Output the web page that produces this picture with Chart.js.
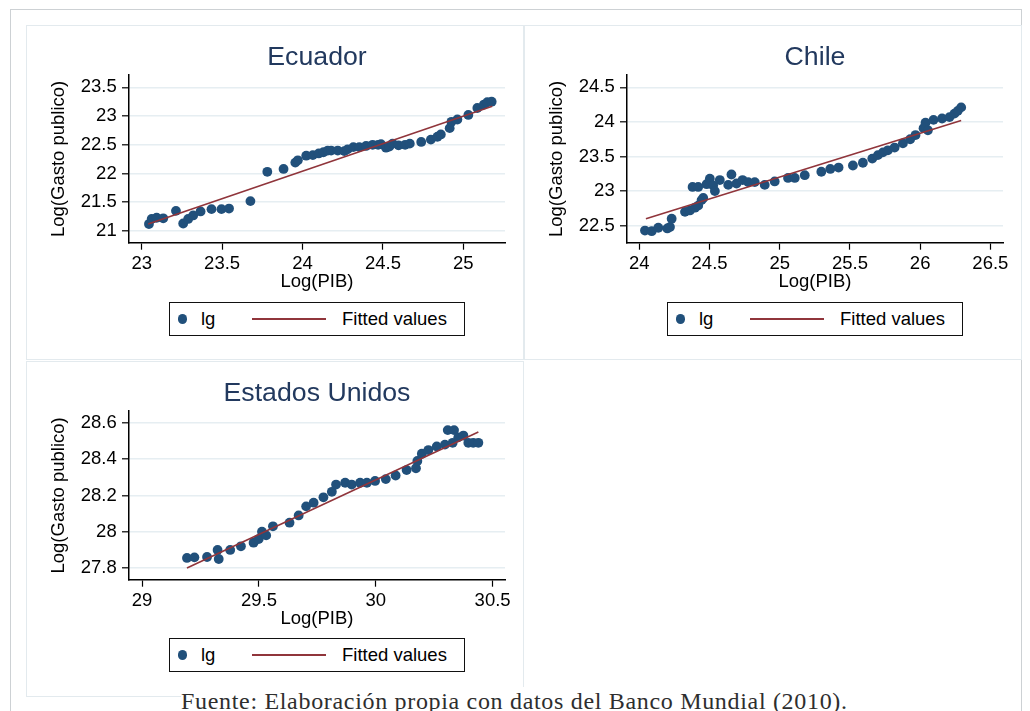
<!DOCTYPE html>
<html><head><meta charset="utf-8">
<script src="https://cdn.jsdelivr.net/npm/chart.js@4.4.1/dist/chart.umd.min.js"></script>
<style>
html,body{margin:0;padding:0;background:#fff;width:1030px;height:711px;overflow:hidden;}
#frame{position:absolute;left:10px;top:9px;width:1012px;height:760px;border:1px solid #cdd1d4;box-sizing:border-box;}
.panel{position:absolute;width:498px;height:335px;box-shadow:inset 0 0 0 1px #e3eaee;}
.panel canvas{position:absolute;left:0;top:0;}
.legend{position:absolute;left:143px;top:277px;width:296px;height:34px;border:1.5px solid #111;box-sizing:border-box;font:18.5px "Liberation Sans",Arial,sans-serif;color:#000;background:#fff;}
.legend .dot{position:absolute;left:7.5px;top:11px;width:9.5px;height:9.5px;border-radius:50%;background:#21507b;}
.legend .t1{position:absolute;left:31px;top:0;line-height:31px;}
.legend .ln{position:absolute;left:82px;top:14.5px;width:74px;height:0;border-top:2px solid #90353b;}
.legend .t2{position:absolute;left:172px;top:0;line-height:31px;}
#foot{position:absolute;left:181px;top:687px;font:24px "Liberation Serif","Times New Roman",serif;letter-spacing:0.68px;color:#2e2e2e;background:#fff;white-space:nowrap;line-height:28px;padding-right:4px;}
</style></head>
<body>
<div id="frame"></div>
<div class="panel" style="left:26px;top:25px;"><canvas id="c1" width="498" height="335"></canvas>
  <div class="legend"><div class="dot"></div><div class="t1">lg</div><div class="ln"></div><div class="t2">Fitted values</div></div></div>
<div class="panel" style="left:524px;top:25px;"><canvas id="c2" width="498" height="335"></canvas>
  <div class="legend"><div class="dot"></div><div class="t1">lg</div><div class="ln"></div><div class="t2">Fitted values</div></div></div>
<div class="panel" style="left:26px;top:361px;height:336px;"><canvas id="c3" width="498" height="336"></canvas>
  <div class="legend"><div class="dot"></div><div class="t1">lg</div><div class="ln"></div><div class="t2">Fitted values</div></div></div>
<div id="foot">Fuente: Elaboración propia con datos del Banco Mundial (2010).</div>
<script>
// ---------- Data ----------
const ecuadorPIB = [23.045,23.062,23.093,23.134,23.213,23.258,23.289,23.32,23.366,23.434,23.496,23.543,23.676,23.781,23.882,23.955,23.971,24.023,24.064,24.101,24.13,24.157,24.178,24.219,24.26,24.28,24.316,24.353,24.395,24.436,24.47,24.488,24.519,24.54,24.56,24.597,24.638,24.667,24.738,24.798,24.839,24.86,24.915,24.926,24.963,25.031,25.087,25.128,25.149,25.176];
const ecuadorGasto = [21.12,21.21,21.23,21.22,21.35,21.13,21.21,21.27,21.34,21.38,21.38,21.39,21.52,22.03,22.08,22.19,22.23,22.31,22.32,22.35,22.37,22.40,22.40,22.40,22.39,22.42,22.46,22.46,22.48,22.50,22.50,22.51,22.45,22.47,22.52,22.49,22.50,22.52,22.55,22.59,22.64,22.68,22.79,22.90,22.94,23.02,23.14,23.20,23.24,23.25];
const ecuadorFitPIB = [23.04, 25.18];
const ecuadorFitGasto = [21.12, 23.17];

const chilePIB = [24.04,24.088,24.135,24.199,24.218,24.23,24.325,24.36,24.396,24.419,24.443,24.455,24.379,24.419,24.479,24.502,24.526,24.538,24.573,24.633,24.656,24.692,24.735,24.775,24.822,24.893,24.964,25.059,25.107,25.178,25.296,25.36,25.419,25.521,25.592,25.659,25.699,25.735,25.77,25.818,25.877,25.929,25.967,26.024,26.038,26.055,26.095,26.156,26.209,26.244,26.268,26.292];
const chileGasto = [22.43,22.42,22.47,22.46,22.48,22.60,22.70,22.72,22.76,22.79,22.87,22.90,23.06,23.06,23.10,23.18,23.08,23.00,23.16,23.09,23.24,23.11,23.16,23.13,23.13,23.09,23.14,23.19,23.19,23.23,23.28,23.32,23.34,23.37,23.41,23.47,23.52,23.56,23.59,23.63,23.69,23.75,23.81,23.91,23.99,23.88,24.03,24.05,24.07,24.12,24.16,24.21];
const chileFitPIB = [24.047, 26.292];
const chileFitGasto = [22.60, 24.02];

const usaPIB = [29.192,29.224,29.278,29.323,29.328,29.377,29.423,29.477,29.499,29.513,29.531,29.56,29.631,29.67,29.702,29.734,29.776,29.812,29.83,29.869,29.897,29.933,29.962,29.997,30.043,30.085,30.132,30.172,30.178,30.197,30.225,30.261,30.296,30.308,30.335,30.329,30.353,30.375,30.396,30.417,30.439];
const usaGasto = [27.856,27.859,27.861,27.90,27.85,27.90,27.92,27.94,27.96,28.00,27.98,28.03,28.05,28.09,28.14,28.16,28.19,28.22,28.26,28.27,28.26,28.27,28.27,28.28,28.29,28.31,28.34,28.35,28.39,28.43,28.45,28.47,28.48,28.56,28.56,28.49,28.52,28.53,28.49,28.49,28.49];
const usaFitPIB = [29.192, 30.439];
const usaFitGasto = [27.80, 28.55];

const ecuadorXTicks = [23, 23.5, 24, 24.5, 25];
const ecuadorYTicks = [21, 21.5, 22, 22.5, 23, 23.5];
const chileXTicks = [24, 24.5, 25, 25.5, 26, 26.5];
const chileYTicks = [22.5, 23, 23.5, 24, 24.5];
const usaXTicks = [29, 29.5, 30, 30.5];
const usaYTicks = [27.8, 28, 28.2, 28.4, 28.6];

const titles = ['Ecuador', 'Chile', 'Estados Unidos'];
const xTitle = 'Log(PIB)';
const yTitle = 'Log(Gasto publico)';

// ---------- Chart ----------
const FONT = '"Liberation Sans", Arial, sans-serif';
const fmt = v => String(Math.round(v * 10) / 10);
const pairs = (xs, ys) => xs.map((x, i) => ({x: x, y: ys[i]}));

function makeChart(id, title, xs, ys, fx, fy, xr, yr, xt, yt) {
  new Chart(document.getElementById(id), {
    type: 'scatter',
    data: {
      datasets: [
        {label: 'Fitted values', type: 'line', data: pairs(fx, fy), borderColor: '#90353b', borderWidth: 1.6,
         pointRadius: 0, showLine: true, fill: false, order: 0},
        {label: 'lg', data: pairs(xs, ys), backgroundColor: '#21507b', borderColor: '#21507b', borderWidth: 0,
         pointRadius: 4.9, order: 1}
      ]
    },
    options: {
      responsive: false, animation: false, events: [],
      layout: {padding: {left: 22, top: 0, right: 19, bottom: 66.6}},
      plugins: {
        legend: {display: false}, tooltip: {enabled: false},
        title: {display: true, text: title, fullSize: false, color: '#22395e',
                font: {family: FONT, size: 26.7, weight: 'normal'}, padding: {top: 17, bottom: 1}}
      },
      scales: {
        x: {
          type: 'linear', position: 'bottom', min: xr[0], max: xr[1],
          afterBuildTicks: s => { s.ticks = xt.map(v => ({value: v})); },
          afterFit: s => { s.height = 50.7; s.paddingLeft = 0; s.paddingRight = 0; },
          grid: {drawOnChartArea: false, drawTicks: true, tickLength: 7, tickColor: '#000', tickWidth: 1.2},
          border: {display: true, color: '#000', width: 1.5},
          ticks: {color: '#000', font: {family: FONT, size: 18.5}, padding: 3, maxRotation: 0, autoSkip: false, callback: v => fmt(v)},
          title: {display: true, text: xTitle, color: '#000', font: {family: FONT, size: 18.5}, padding: 0}
        },
        y: {
          type: 'linear', position: 'left', min: yr[0], max: yr[1],
          afterBuildTicks: s => { s.ticks = yt.map(v => ({value: v})); },
          afterFit: s => { s.width = 81; s.paddingTop = 0; s.paddingBottom = 0; },
          grid: {color: '#e6eef2', lineWidth: 1.6, drawTicks: true, tickLength: 7, tickColor: '#000', tickWidth: 1.2},
          border: {display: true, color: '#000', width: 1.5},
          ticks: {color: '#000', font: {family: FONT, size: 18.5}, padding: 5.3, autoSkip: false, callback: v => fmt(v)},
          title: {display: true, text: yTitle, color: '#000', font: {family: FONT, size: 18.5}, padding: 0}
        }
      }
    }
  });
}

makeChart('c1', titles[0], ecuadorPIB, ecuadorGasto, ecuadorFitPIB, ecuadorFitGasto, [22.921, 25.259], [20.796, 23.714], ecuadorXTicks, ecuadorYTicks);
makeChart('c2', titles[1], chilePIB, chileGasto, chileFitPIB, chileFitGasto, [23.912, 26.590], [22.254, 24.678], chileXTicks, chileYTicks);
makeChart('c3', titles[2], usaPIB, usaGasto, usaFitPIB, usaFitGasto, [28.944, 30.553], [27.736, 28.665], usaXTicks, usaYTicks);
</script>
</body></html>
